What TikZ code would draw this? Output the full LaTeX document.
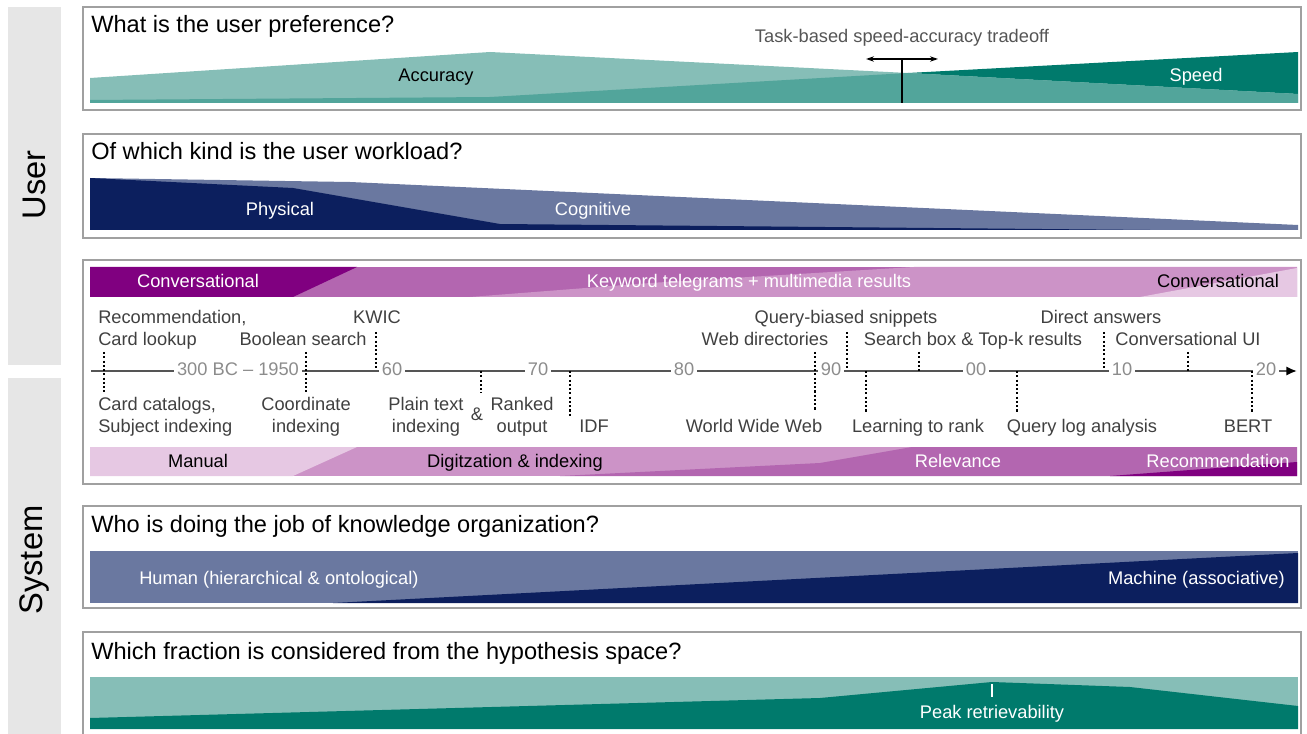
\documentclass[tikz,border=0pt]{standalone}
\usepackage{fontspec}
\setmainfont{Liberation Sans}
\usetikzlibrary{arrows.meta}

\definecolor{tealL}{HTML}{86BEB7}
\definecolor{tealM}{HTML}{52A59B}
\definecolor{tealD}{HTML}{007A6C}
\definecolor{navy}{HTML}{0C1F5E}
\definecolor{slate}{HTML}{6A78A0}
\definecolor{purD}{HTML}{800080}
\definecolor{purM}{HTML}{B366B0}
\definecolor{purP}{HTML}{CC93C7}
\definecolor{purL}{HTML}{E6C8E3}
\definecolor{sidegray}{HTML}{E6E6E6}
\definecolor{framegray}{HTML}{A0A0A0}
\definecolor{axisgray}{HTML}{555555}
\definecolor{yeargray}{HTML}{8C8C8C}
\definecolor{labgray}{HTML}{404040}

\tikzset{
  panel/.style={draw=framegray, line width=1pt},
  qtitle/.style={anchor=base west, inner sep=0pt, font=\fontsize{17.7}{20}\selectfont},
  lab/.style={anchor=base, inner sep=0pt, font=\fontsize{13.7}{16}\selectfont},
  tl/.style={lab, text=labgray},
  year/.style={lab, text=yeargray, fill=white, inner xsep=2pt, inner ysep=1pt},
  side/.style={rotate=90, inner sep=0pt, font=\fontsize{24.5}{28}\selectfont},
  marker/.style={draw=black, line width=0.8pt, dash pattern=on 1.6pt off 1.6pt},
}

\begin{document}
\begin{tikzpicture}[x=0.75pt, y=-0.75pt]
\useasboundingbox (0,0) rectangle (1307,734);
\clip (0,0) rectangle (1307,734);

% side bars
\fill[sidegray] (8,7) rectangle (61,365);
\fill[sidegray] (8,378) rectangle (61,740);
\node[side] (user) at (34,185) {User};
\node[side] (system) at (34,560) {System};

% ---------- user preference ----------
\draw[panel] (83,7) rectangle (1301,110);
\node[qtitle] (q1) at (91,33) {What is the user preference?};
\fill[tealL] (90,78) -- (490,52) -- (908,73) -- (1298,94) -- (1298,103) -- (90,103) -- cycle;
\fill[tealD] (908,73) -- (1298,52) -- (1298,94) -- cycle;
\fill[tealM] (90,100) -- (490,97) -- (908,73) -- (1298,94) -- (1298,103) -- (90,103) -- cycle;
\node[lab] (acc) at (436,82) {Accuracy};
\node[lab, text=white] (spd) at (1196,82) {Speed};
\node[lab, text=axisgray] (trade) at (902,43) {Task-based speed-accuracy tradeoff};
\coordinate (tbase) at (902,103);
\coordinate (ttop) at (902,59);
\coordinate (tleft) at (866,59);
\coordinate (tright) at (938,59);
\draw[line width=1pt] (tbase) -- (ttop);
\draw[line width=1pt, {Stealth[length=6pt,width=4pt]}-{Stealth[length=6pt,width=4pt]}] (tleft) -- (tright);

% ---------- user workload ----------
\draw[panel] (83,134) rectangle (1301,238);
\node[qtitle] (q2) at (91,160) {Of which kind is the user workload?};
\fill[slate] (90,178) -- (350,182) -- (1298,225) -- (1298,230) -- (90,230) -- cycle;
\fill[navy] (90,178) -- (293,188) -- (500,224) -- (1150,230) -- (90,230) -- cycle;
\node[lab, text=white] (phys) at (280,216) {Physical};
\node[lab, text=white] (cogn) at (593,216) {Cognitive};

% ---------- timeline ----------
\draw[panel] (83,260) rectangle (1301,484);
% interaction bar
\fill[purM] (90,267) rectangle (1297,297);
\fill[purD] (90,267) -- (357,267) -- (293,297) -- (90,297) -- cycle;
\fill[purP] (470,297) -- (650,283) -- (914,267) -- (1297,267) -- (1297,297) -- cycle;
\fill[purL] (1140,297) -- (1297,268) -- (1297,297) -- cycle;
\node[lab, text=white] (conv1) at (198,288) {Conversational};
\node[lab, text=white] (kw) at (749,288) {Keyword telegrams + multimedia results};
\node[lab] (conv2) at (1218,288) {Conversational};
% retrieval bar
\fill[purP] (90,447) rectangle (1297,476);
\fill[purL] (90,447) -- (357,447) -- (293,476) -- (90,476) -- cycle;
\fill[purM] (560,476) -- (820,463) -- (912,447) -- (1297,447) -- (1297,476) -- cycle;
\fill[purD] (1110,476) -- (1297,462) -- (1297,476) -- cycle;
\node[lab] (man) at (198,467) {Manual};
\node[lab] (dig) at (515,467) {Digitzation \& indexing};
\node[lab, text=white] (rel) at (958,467) {Relevance};
\node[lab, text=white] (rec) at (1218,467) {Recommendation};

% axis
\coordinate (ax0) at (91,371);
\coordinate (ax1) at (1297,371);
\draw[axisgray, line width=1.5pt, -{Latex[length=8pt,width=7pt,color=black]}] (ax0) -- (ax1);
\node[year] (y50) at (238,376) {300 BC \textendash{} 1950};
\node[year] (y60) at (392,376) {60};
\node[year] (y70) at (538,376) {70};
\node[year] (y80) at (684,376) {80};
\node[year] (y90) at (831,376) {90};
\node[year] (y00) at (976,376) {00};
\node[year] (y10) at (1122,376) {10};
\node[year] (y20) at (1266,376) {20};

% event markers
\draw[marker] (104,352) -- (104,392);
\draw[marker] (306,352) -- (306,392);
\draw[marker] (376,332) -- (376,370);
\draw[marker] (481,371) -- (481,393);
\draw[marker] (570,371) -- (570,417);
\draw[marker] (815,352) -- (815,410);
\draw[marker] (847,332) -- (847,370);
\draw[marker] (866,371) -- (866,412);
\draw[marker] (919,352) -- (919,371);
\draw[marker] (1017,371) -- (1017,412);
\draw[marker] (1104,332) -- (1104,370);
\draw[marker] (1188,352) -- (1188,371);
\draw[marker] (1252,371) -- (1252,412);

% events above the axis
\node[tl, anchor=base west] (e1a) at (98,324) {Recommendation,};
\node[tl, anchor=base west] (e1b) at (98,346) {Card lookup};
\node[tl] (e2) at (303,346) {Boolean search};
\node[tl] (e3) at (377,324) {KWIC};
\node[tl] (e4) at (765,346) {Web directories};
\node[tl] (e5) at (846,324) {Query-biased snippets};
\node[tl] (e6) at (973,346) {Search box \& Top-k results};
\node[tl] (e7) at (1101,324) {Direct answers};
\node[tl] (e8) at (1188,346) {Conversational UI};
% events below the axis
\node[tl, anchor=base west] (f1a) at (98,410) {Card catalogs,};
\node[tl, anchor=base west] (f1b) at (98,432) {Subject indexing};
\node[tl] (f2a) at (306,410) {Coordinate};
\node[tl] (f2b) at (306,432) {indexing};
\node[tl] (f3a) at (426,410) {Plain text};
\node[tl] (f3b) at (426,432) {indexing};
\node[tl] (f3c) at (477,420) {\&};
\node[tl] (f4a) at (522,410) {Ranked};
\node[tl] (f4b) at (522,432) {output};
\node[tl, anchor=base west] (f5) at (579,432) {IDF};
\node[tl] (f6) at (754,432) {World Wide Web};
\node[tl] (f7) at (918,432) {Learning to rank};
\node[tl] (f8) at (1082,432) {Query log analysis};
\node[tl] (f9) at (1248,432) {BERT};

% ---------- knowledge organization ----------
\draw[panel] (83,506) rectangle (1301,608);
\node[qtitle] (q4) at (91,532) {Who is doing the job of knowledge organization?};
\fill[slate] (90,551) rectangle (1298,603);
\fill[navy] (333,603) -- (1298,553) -- (1298,603) -- cycle;
\node[lab, text=white, anchor=base west] (hum) at (139,584) {Human (hierarchical \& ontological)};
\node[lab, text=white, anchor=base east] (mach) at (1285,584) {Machine (associative)};

% ---------- hypothesis space ----------
\draw[panel] (83,632) rectangle (1301,745);
\node[qtitle] (q5) at (91,659) {Which fraction is considered from the hypothesis space?};
\fill[tealL] (90,677) rectangle (1298,729);
\fill[tealD] (90,718) -- (820,698) -- (992,682) -- (1130,687) -- (1298,706) -- (1298,729) -- (90,729) -- cycle;
\coordinate (pk0) at (992,684);
\coordinate (pk1) at (992,697);
\draw[white, line width=0.8pt] (pk0) -- (pk1);
\node[lab, text=white] (peak) at (992,718) {Peak retrievability};
\end{tikzpicture}
\end{document}
